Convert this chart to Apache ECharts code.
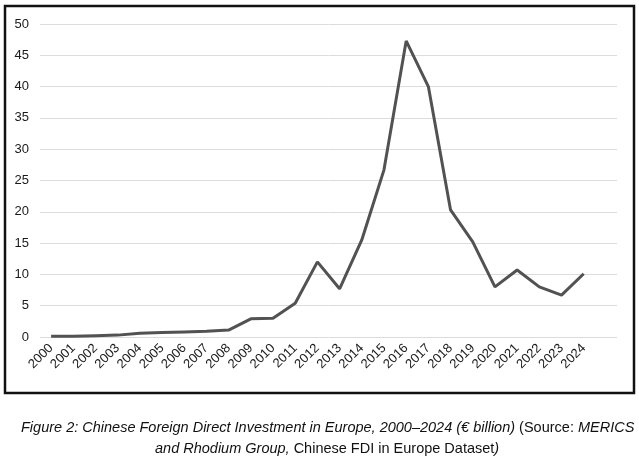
<!DOCTYPE html>
<html>
<head>
<meta charset="utf-8">
<script src="https://cdn.jsdelivr.net/npm/echarts@6/dist/echarts.min.js"></script>
<style>
  html, body { margin: 0; padding: 0; background: #fff; }
  #main { width: 639px; height: 460px; }
</style>
</head>
<body>
<div id="main"></div>
<script>
// years (the trailing blank slot is the empty category Excel leaves at the end)
var years = ['2000','2001','2002','2003','2004','2005','2006','2007','2008','2009',
             '2010','2011','2012','2013','2014','2015','2016','2017','2018','2019',
             '2020','2021','2022','2023','2024',''];
// Chinese FDI in Europe, EUR billion
var fdi = [0.1, 0.1, 0.2, 0.3, 0.6, 0.7, 0.8, 0.9, 1.1, 2.9,
           3.0, 5.4, 12.0, 7.7, 15.5, 26.7, 47.3, 40.0, 20.3, 15.2,
           8.0, 10.7, 8.0, 6.7, 10.1, null];
var yTicks = [0, 5, 10, 15, 20, 25, 30, 35, 40, 45, 50];

var font = 'Liberation Sans, Arial, Helvetica, sans-serif';

var myChart = echarts.init(document.getElementById('main'));
var option = {
    backgroundColor: '#fff',
    animation: false,
    grid: { left: 40, right: 22, top: 24, bottom: 123 },
    xAxis: {
        type: 'category',
        data: years,
        boundaryGap: true,
        axisLine: { show: false },
        axisTick: { show: false },
        axisLabel: {
            interval: 0,
            rotate: 45,
            margin: 9,
            color: '#1a1a1a',
            fontSize: 13,
            fontFamily: font
        }
    },
    yAxis: {
        type: 'value',
        min: yTicks[0],
        max: yTicks[yTicks.length - 1],
        interval: 5,
        axisLine: { show: false },
        axisTick: { show: false },
        splitLine: { lineStyle: { color: '#dcdcdc', width: 1 } },
        axisLabel: {
            margin: 11,
            color: '#1a1a1a',
            fontSize: 13,
            fontFamily: font
        }
    },
    series: [{
        type: 'line',
        data: fdi,
        symbol: 'none',
        lineStyle: { color: '#525252', width: 3 },
        connectNulls: false
    }],
    graphic: [
        {
            type: 'rect',
            shape: { x: 5, y: 6, width: 629, height: 387 },
            style: { fill: null, stroke: '#111', lineWidth: 2.5 },
            z: 10
        },
        {
            type: 'text',
            left: 21,
            top: 420,
            style: {
                text: '{i|Figure 2: Chinese Foreign Direct Investment in Europe, 2000\u20132024 (\u20ac billion)} {n|(Source: }{i|MERICS}',
                font: '14.5px ' + font,
                fill: '#111',
                rich: {
                    i: { fontStyle: 'italic', fontSize: 14.5, fontFamily: font, fill: '#111' },
                    n: { fontSize: 14.5, fontFamily: font, fill: '#111' }
                }
            }
        },
        {
            type: 'text',
            left: 155,
            top: 441,
            style: {
                text: '{i|and Rhodium Group,} {n|Chinese FDI in Europe Dataset}{i|)}',
                font: '14.5px ' + font,
                fill: '#111',
                rich: {
                    i: { fontStyle: 'italic', fontSize: 14.5, fontFamily: font, fill: '#111' },
                    n: { fontSize: 14.5, fontFamily: font, fill: '#111' }
                }
            }
        }
    ]
};
myChart.setOption(option);
</script>
</body>
</html>
